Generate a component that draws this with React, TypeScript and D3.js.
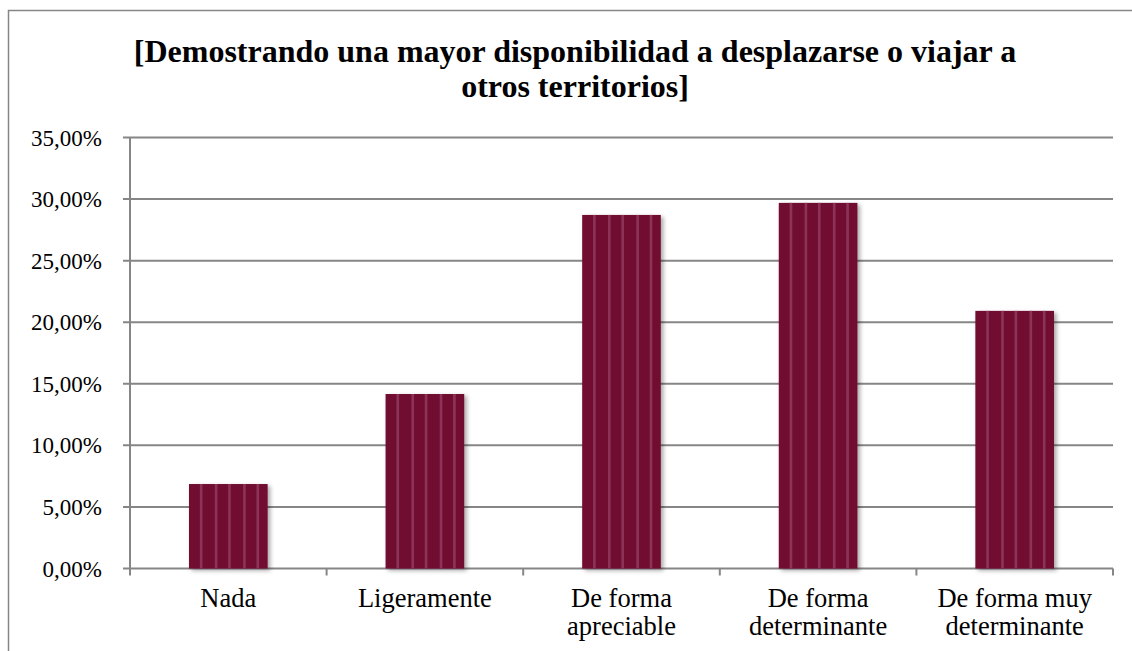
import React from "react";
import * as d3 from "d3";

const categories: string[][] = [
  ["Nada"],
  ["Ligeramente"],
  ["De forma", "apreciable"],
  ["De forma", "determinante"],
  ["De forma muy", "determinante"],
];
const values: number[] = [0.0686, 0.1417, 0.2871, 0.2969, 0.2092];
const yTicks: number[] = [0, 0.05, 0.1, 0.15, 0.2, 0.25, 0.3, 0.35];
const titleLines: string[] = [
  "[Demostrando una mayor disponibilidad a desplazarse o viajar a",
  "otros territorios]",
];

const W = 1132;
const H = 651;
const plot = { left: 130, right: 1113, top: 137.5, bottom: 568.5 };
const BAR = "#720930";
const STRIPE = "#8c3458";
const GRID = "#868686";
const FONT = "Liberation Serif";

export default function App() {
  const x = d3
    .scaleBand<number>()
    .domain(categories.map((_, i) => i))
    .range([plot.left, plot.right])
    .paddingInner(0.6)
    .paddingOuter(0.3);
  const band = d3
    .scaleBand<number>()
    .domain(categories.map((_, i) => i))
    .range([plot.left, plot.right]);
  const y = d3.scaleLinear().domain([0, 0.35]).range([plot.bottom, plot.top]);
  const fmt = (v: number) => (v * 100).toFixed(2).replace(".", ",") + "%";
  const bw = x.bandwidth();
  const stripeFr = [0.155, 0.345, 0.515, 0.705, 0.875];

  return (
    <div style={{ fontFamily: "'Liberation Serif', serif" }}>
      <svg width={W} height={H} style={{ position: "absolute", left: 0, top: 0, background: "#fff" }}>
        <defs>
          <filter id="sh" x="-20%" y="-20%" width="150%" height="150%">
            <feDropShadow dx="2.5" dy="2" stdDeviation="2.2" floodColor="#000" floodOpacity="0.35" />
          </filter>
        </defs>
        <line x1={8.5} x2={8.5} y1={10} y2={H + 20} stroke={GRID} strokeWidth={1.5} />
        <line x1={8} x2={W + 20} y1={10.5} y2={10.5} stroke={GRID} strokeWidth={1.5} />
        {titleLines.map((t, i) => (
          <text
            key={i}
            x={575}
            y={62 + i * 35}
            textAnchor="middle"
            fontWeight="bold"
            fontSize={32}
            fontFamily={FONT}
            fill="#000"
          >
            {t}
          </text>
        ))}
        {yTicks.map((t) => (
          <g key={t}>
            <line x1={plot.left - 7} x2={plot.right} y1={y(t)} y2={y(t)} stroke={GRID} strokeWidth={2} />
            <text x={102} y={y(t) + 8} textAnchor="end" fontSize={23} fontFamily={FONT} fill="#000">
              {fmt(t)}
            </text>
          </g>
        ))}
        <line x1={plot.left} x2={plot.left} y1={plot.top} y2={plot.bottom + 7} stroke={GRID} strokeWidth={2} />
        {categories.map((_, i) => (
          <line
            key={i}
            x1={(band(i) as number) + band.bandwidth()}
            x2={(band(i) as number) + band.bandwidth()}
            y1={plot.bottom}
            y2={plot.bottom + 7}
            stroke={GRID}
            strokeWidth={2}
          />
        ))}
        {values.map((v, i) => {
          const x0 = x(i) as number;
          return (
            <g key={i}>
              <rect x={x0} y={y(v)} width={bw} height={plot.bottom - y(v)} fill={BAR} filter="url(#sh)" />
              {stripeFr.map((f, j) => (
                <rect
                  key={j}
                  x={x0 + bw * f - 1.3}
                  y={y(v)}
                  width={2.6}
                  height={plot.bottom - y(v)}
                  fill={STRIPE}
                />
              ))}
            </g>
          );
        })}
        {categories.map((lines, i) => (
          <text
            key={i}
            x={(band(i) as number) + band.bandwidth() / 2}
            textAnchor="middle"
            fontSize={26.5}
            fontFamily={FONT}
            fill="#000"
          >
            {lines.map((l, j) => (
              <tspan key={j} x={(band(i) as number) + band.bandwidth() / 2} y={607 + j * 28}>
                {l}
              </tspan>
            ))}
          </text>
        ))}
      </svg>
    </div>
  );
}
